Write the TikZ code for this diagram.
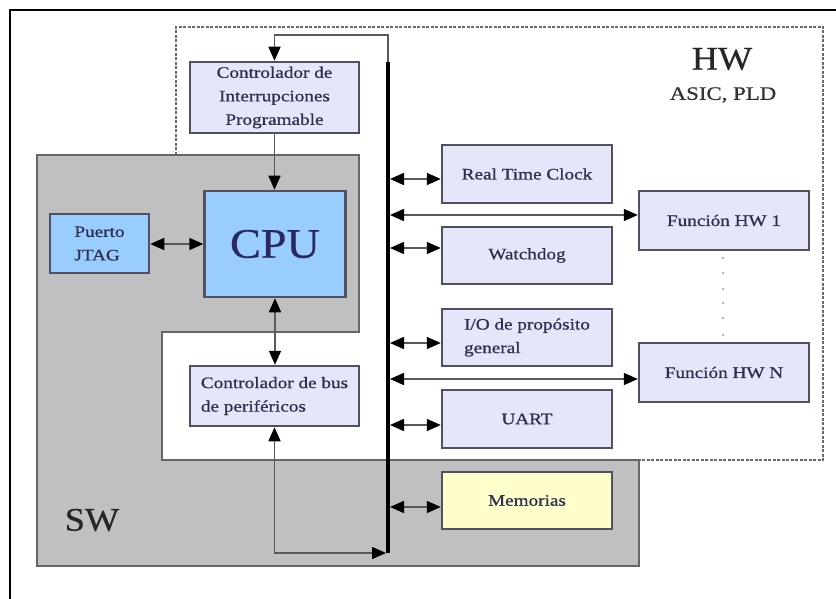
\documentclass[tikz,border=0pt]{standalone}
\usepackage{fontspec}
\setmainfont{Liberation Serif}[FakeStretch=1.2,FakeBold=0.8]
\newfontfamily\bigfont{Liberation Serif}[FakeStretch=1.1,FakeBold=0.5]
\usetikzlibrary{arrows.meta}
\definecolor{lav}{HTML}{E6E6FA}
\definecolor{cpublue}{HTML}{99CCFF}
\definecolor{memyel}{HTML}{FFFFCC}
\definecolor{swgrey}{HTML}{C0C0C0}
\definecolor{edge}{HTML}{505060}
\definecolor{txt}{HTML}{2E2E4E}
\definecolor{dash}{HTML}{6A6A6A}
\begin{document}
\begin{tikzpicture}[x=1pt,y=-1pt,
  box/.style={draw=edge, line width=2.5pt, fill=lav, inner sep=0pt, text=txt,
    font=\fontsize{16}{23.5}\selectfont},
  conn/.style={draw=black!65, line width=1.6pt,
    >={Triangle[length=14pt,width=12pt,color=black]}},
  bus/.style={draw=black, line width=4.5pt},
  big/.style={inner sep=0pt, text=black!85, font=\bigfont\fontsize{33}{33}\selectfont}
]
\useasboundingbox (0,0) rectangle (836,599);
% outer frame (top and left only)
\draw[black, line width=1.2pt] (10,599) -- (10,10) -- (836,10);
% SW region
\draw[fill=swgrey, draw=black!60, line width=2.2pt]
  (37,155) -- (359,155) -- (359,332) -- (162,332) -- (162,460) -- (639,460)
  -- (639,566) -- (37,566) -- cycle;
% HW dashed outline
\draw[draw=dash, line width=1.8pt, dash pattern=on 3pt off 1.5pt]
  (176,155) -- (176,27) -- (823,27) -- (823,460) -- (639,460);

% labels
\node[big] (hw) at (722,59) {HW};
\node[inner sep=0pt, text=black!80, font=\fontsize{19}{19}\selectfont] (asic) at (723,95) {ASIC, PLD};
\node[big] (sw) at (92,520) {SW};

% boxes
\node[box, minimum width=169pt, minimum height=71pt, align=center] (intr) at (274.5,97.5)
  {Controlador de\\Interrupciones\\Programable};
\node[box, fill=cpublue, minimum width=141pt, minimum height=106pt, text=txt!90!blue,
  font=\bigfont\fontsize{42}{42}\selectfont] (cpu) at (275,244) {CPU};
\node[box, fill=cpublue, minimum width=99pt, minimum height=59pt, align=left] (jtag) at (99.5,243.5)
  {Puerto\\JTAG};
\node[box, minimum width=169pt, minimum height=60pt, align=left] (pbus) at (274.5,396)
  {Controlador de bus\\de periféricos};
\node[box, minimum width=170pt, minimum height=58pt] (rtc) at (527,174) {Real Time Clock};
\node[box, minimum width=170pt, minimum height=57pt] (wdog) at (527,255.5) {Watchdog};
\node[box, minimum width=170pt, minimum height=57pt, align=left] (io) at (527,337.5)
  {I/O de propósito\\general};
\node[box, minimum width=170pt, minimum height=58pt] (uart) at (527,419) {UART};
\node[box, fill=memyel, minimum width=170pt, minimum height=57pt] (mem) at (527,500.5) {Memorias};
\node[box, minimum width=170pt, minimum height=59pt] (hw1) at (724,220.5) {Función HW 1};
\node[box, minimum width=170pt, minimum height=59pt] (hwn) at (724,372.5) {Función HW N};

% dots between HW1 and HWN
\foreach \yy in {258,273,289,303,318,335} \fill[black!30] (723,\yy) circle (1.3pt);

% bus coordinates
\coordinate (bustop) at (388,62);
\coordinate (busbot) at (388,553);
\coordinate (loop) at (388,35);
\coordinate (busend) at (386,553);
\coordinate (b1) at (390,179);
\coordinate (b2) at (390,215);
\coordinate (b3) at (390,248);
\coordinate (b4) at (390,343);
\coordinate (b5) at (390,379);
\coordinate (b6) at (390,425);
\coordinate (b7) at (390,507);

% connectors
\draw[conn,->] (bustop) -- (loop) -| (intr.north);
\draw[conn,->] (intr.south) -- (intr.south |- cpu.north);
\draw[conn,<->] (jtag.east |- cpu.west) -- (cpu.west);
\draw[conn,<->] (cpu.south) -- (cpu.south |- pbus.north);
\draw[conn,<->] (pbus.south) |- (busend);
\draw[conn,<->] (b1) -- (b1 -| rtc.west);
\draw[conn,<->] (b2) -- (b2 -| hw1.west);
\draw[conn,<->] (b3) -- (b3 -| wdog.west);
\draw[conn,<->] (b4) -- (b4 -| io.west);
\draw[conn,<->] (b5) -- (b5 -| hwn.west);
\draw[conn,<->] (b6) -- (b6 -| uart.west);
\draw[conn,<->] (b7) -- (b7 -| mem.west);
% bus
\draw[bus] (bustop) -- (busbot);
\end{tikzpicture}
\end{document}
